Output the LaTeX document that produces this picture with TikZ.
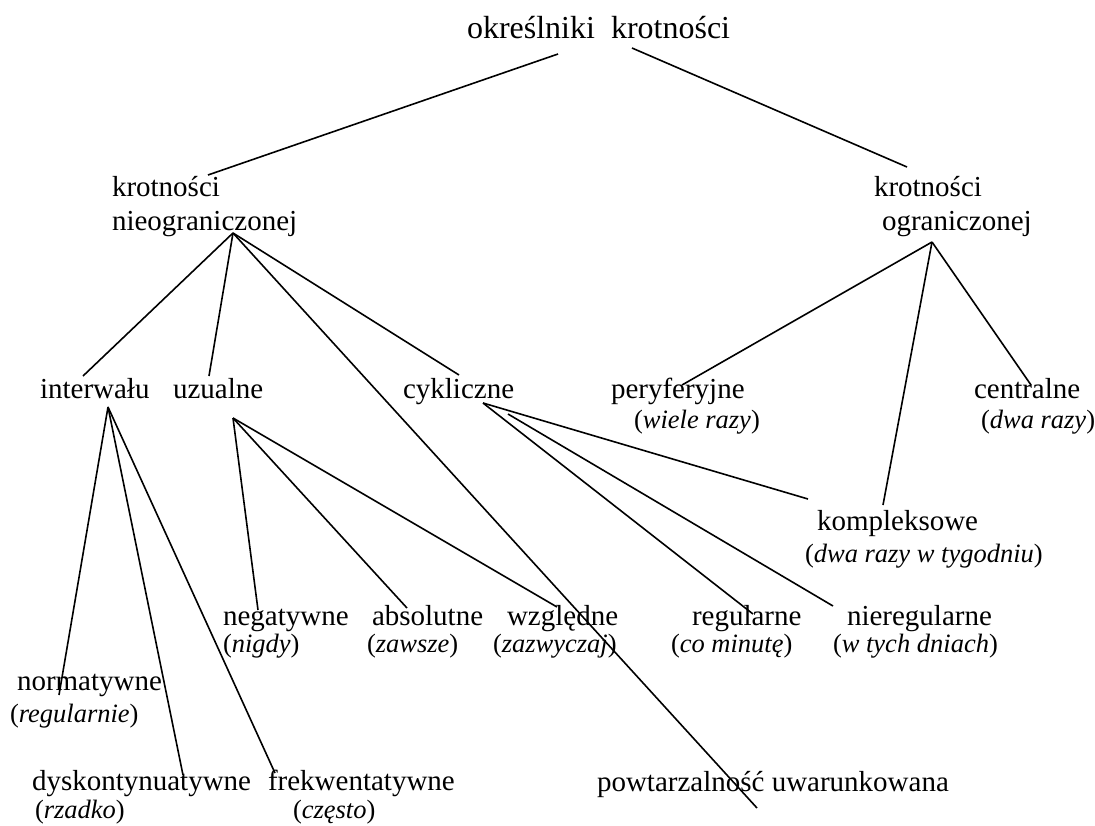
\documentclass[tikz,border=0pt]{standalone}
\usepackage{fontspec}
\setmainfont{Liberation Serif}
\usetikzlibrary{positioning,calc}

\begin{document}
\begin{tikzpicture}[x=1pt, y=-1pt,
  lbl/.style={inner sep=0pt, outer sep=0pt, anchor=base west,
              font=\fontsize{29}{34}\selectfont},
  head/.style={lbl, anchor=north west, align=left},
  rootlbl/.style={lbl, font=\fontsize{32}{38}\selectfont},
  ex/.style={lbl, font=\fontsize{26.5}{31}\selectfont},
  branch/.style={draw, line width=1.6pt},
]
  \useasboundingbox (0,0) rectangle (1095,825);

  % Root
  \node[rootlbl] (root) at (467,38) {określniki\ \ krotności};

  % Two main kinds
  \node[head] (nieogr) at (112,176) {krotności\\nieograniczonej};
  \node[head] (ogr)    at (874,176) {krotności\\\hspace*{8pt}ograniczonej};

  % Under nieograniczonej
  \node[lbl] (interw) at (40,398)  {interwału};
  \node[lbl] (uzual)  at (173,398) {uzualne};
  \node[lbl] (cykl)   at (403,398) {cykliczne};
  \node[lbl] (powt)   at (597,791) {powtarzalność uwarunkowana};

  % Under ograniczonej
  \node[lbl] (peryf)     at (611,398) {peryferyjne};
  \node[ex]  (peryf-ex)  at (634,428) {(\textit{wiele razy})};
  \node[lbl] (centr)     at (974,398) {centralne};
  \node[ex]  (centr-ex)  at (981,428) {(\textit{dwa razy})};
  \node[lbl] (kompl)     at (817,530) {kompleksowe};
  \node[ex]  (kompl-ex)  at (805,562) {(\textit{dwa razy w tygodniu})};

  % Under uzualne
  \node[lbl] (negat)    at (223,625) {negatywne};
  \node[ex]  (negat-ex) at (223,652) {(\textit{nigdy})};
  \node[lbl] (absol)    at (372,625) {absolutne};
  \node[ex]  (absol-ex) at (367,652) {(\textit{zawsze})};
  \node[lbl] (wzgl)     at (507,625) {względne};
  \node[ex]  (wzgl-ex)  at (493,652) {(\textit{zazwyczaj})};

  % Under cykliczne
  \node[lbl] (regul)     at (692,625) {regularne};
  \node[ex]  (regul-ex)  at (671,652) {(\textit{co minutę})};
  \node[lbl] (niereg)    at (847,625) {nieregularne};
  \node[ex]  (niereg-ex) at (833,652) {(\textit{w tych dniach})};

  % Under interwału
  \node[lbl] (normat)    at (17,690)  {normatywne};
  \node[ex]  (normat-ex) at (10,722)  {(\textit{regularnie})};
  \node[lbl] (dysk)      at (32,790)  {dyskontynuatywne};
  \node[ex]  (dysk-ex)   at (35,818)  {(\textit{rzadko})};
  \node[lbl] (frek)      at (268,790) {frekwentatywne};
  \node[ex]  (frek-ex)   at (293,818) {(\textit{często})};

  % Root branches
  \draw[branch] ([shift={(91,16)}]root.base west) -- ([shift={(96,-1)}]nieogr.north west);
  \draw[branch] ([shift={(165,10)}]root.base west) -- ([shift={(33,-9)}]ogr.north west);

  % nieograniczonej fan
  \draw[branch] ([shift={(121,57)}]nieogr.north west) -- ([shift={(43,-22)}]interw.base west);
  \draw[branch] ([shift={(121,57)}]nieogr.north west) -- ([shift={(36,-22)}]uzual.base west);
  \draw[branch] ([shift={(121,57)}]nieogr.north west) -- ([shift={(56,-23)}]cykl.base west);
  \draw[branch] ([shift={(121,57)}]nieogr.north west) -- ([shift={(160,17)}]powt.base west);

  % ograniczonej fan
  \draw[branch] ([shift={(58,66)}]ogr.north west) -- ([shift={(71,-13)}]peryf.base west);
  \draw[branch] ([shift={(58,66)}]ogr.north west) -- ([shift={(66,-25)}]kompl.base west);
  \draw[branch] ([shift={(58,66)}]ogr.north west) -- ([shift={(57,-13)}]centr.base west);

  % interwału fan
  \draw[branch] ([shift={(68,9)}]interw.base west) -- ([shift={(42,5)}]normat.base west);
  \draw[branch] ([shift={(68,9)}]interw.base west) -- ([shift={(151,-15)}]dysk.base west);
  \draw[branch] ([shift={(68,9)}]interw.base west) -- ([shift={(7,-17)}]frek.base west);

  % uzualne fan
  \draw[branch] ([shift={(60,20)}]uzual.base west) -- ([shift={(35,-15)}]negat.base west);
  \draw[branch] ([shift={(60,20)}]uzual.base west) -- ([shift={(35,-17)}]absol.base west);
  \draw[branch] ([shift={(60,20)}]uzual.base west) -- ([shift={(50,-18)}]wzgl.base west);

  % cykliczne fan
  \draw[branch] ([shift={(80,5)}]cykl.base west) -- ([shift={(-9,-31)}]kompl.base west);
  \draw[branch] ([shift={(80,5)}]cykl.base west) -- ([shift={(61,-11)}]regul.base west);
  \draw[branch] ([shift={(105,16)}]cykl.base west) -- ([shift={(-14,-19)}]niereg.base west);

\end{tikzpicture}
\end{document}
